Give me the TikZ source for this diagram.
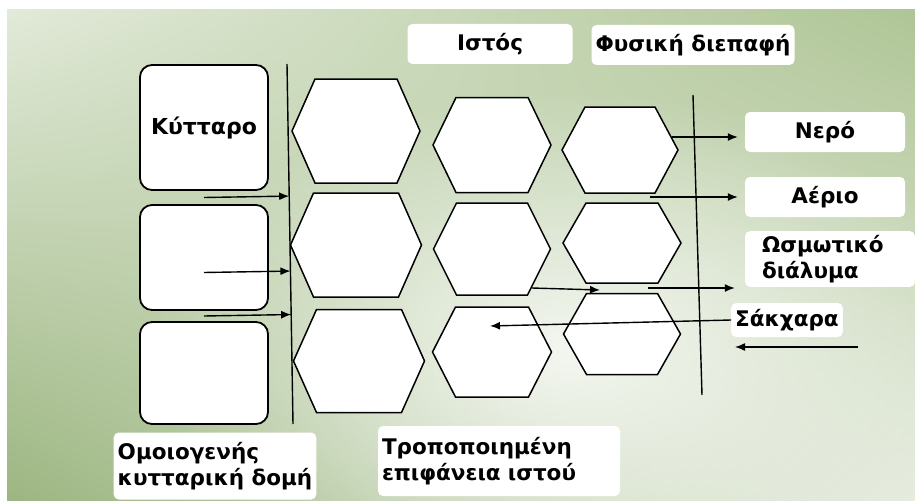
\documentclass[tikz,border=0pt]{standalone}
\usepackage{fontspec}
\setmainfont{DejaVu Sans}
\usetikzlibrary{arrows.meta, positioning, calc, fadings, shadings}
\definecolor{bgpale}{HTML}{E2EAD9}
\definecolor{bggreen}{HTML}{AFC596}
\definecolor{bgdeep}{HTML}{9CB681}
\definecolor{bglight}{HTML}{E6ECDF}
\tikzfading[name=glow, inner color=transparent!0, outer color=transparent!100]
\tikzset{
  cellcore/.style={inner sep=0pt, outer sep=0pt},
  cellline/.style={draw=black, line width=1.5pt, fill=white, line join=miter},
  cellbox/.style={draw=black, line width=1.8pt, fill=white, rounded corners=12pt,
                  inner sep=0pt, font=\bfseries\fontsize{22}{26}\selectfont},
  tag/.style={fill=white, rounded corners=5pt, inner sep=4pt,
              font=\bfseries\fontsize{21.5}{26}\selectfont},
  flow/.style={line width=1.4pt, -{Latex[length=10pt,width=8pt]}},
  wall/.style={line width=1.4pt},
}
% one hexagonal cell: name, x, y, flat width, height
\newcommand{\hexcell}[5]{%
  \node[cellcore, minimum width=#4pt, minimum height=#5pt] (#1) at (#2,#3) {};
  \draw[cellline] (#1.north west) -- (#1.north east) -- ([xshift=23pt]#1.east)
    -- (#1.south east) -- (#1.south west) -- ([xshift=-23pt]#1.west) -- cycle;
}

\begin{document}
\begin{tikzpicture}[x=1pt, y=-1pt]
  \useasboundingbox (0,0) rectangle (915,503);
  % background
  \fill[white] (0,0) rectangle (915,503);
  \begin{scope}
    \clip (7,10) rectangle (915,500);
    \shade[upper left=bgpale, upper right=bggreen, lower left=bgdeep, lower right=bglight]
      (7,10) rectangle (915,500);
    \fill[white, opacity=0.8, path fading=glow] (570,350) ellipse (420 and 260);
  \end{scope}

  % cells on the left
  \node[cellbox, minimum width=128pt, minimum height=125pt] (cell1) at (204,127.5) {Κύτταρο};
  \node[cellbox, minimum width=128pt, minimum height=105pt] (cell2) at (204,257.5) {};
  \node[cellbox, minimum width=128pt, minimum height=102pt] (cell3) at (204,373) {};

  % membranes
  \coordinate (memA) at (287,64);
  \coordinate (memB) at (293,424);
  \coordinate (memC) at (693,95);
  \coordinate (memD) at (702,395);
  \draw[wall] (memA) -- (memB);
  \draw[wall] (memC) -- (memD);

  % tissue
  \hexcell{h1}{356}{131}{82}{104}
  \hexcell{h2}{356}{245}{85}{104}
  \hexcell{h3}{359}{361}{85}{103}
  \hexcell{h4}{492}{145}{72}{95}
  \hexcell{h5}{492}{249}{71}{92}
  \hexcell{h6}{492}{352}{73}{90}
  \hexcell{h7}{620}{150}{70}{86}
  \hexcell{h8}{622}{243}{72}{80}
  \hexcell{h9}{622}{334}{71}{81}

  % labels
  \node[tag, minimum width=165pt, minimum height=40pt] (istos) at (490,44) {Ιστός};
  \node[tag, minimum width=197pt, minimum height=40pt] (fysiki) at (693,45) {Φυσική διεπαφή};
  \node[tag, minimum width=160pt, minimum height=40pt] (nero) at (825,132) {Νερό};
  \node[tag, minimum width=160pt, minimum height=40pt] (aerio) at (825,197) {Αέριο};
  \node[tag, text width=136pt, inner xsep=17pt, align=left, minimum height=45pt]
    (osmo) at (830,259) {Ωσμωτικό\\διάλυμα};
  \node[tag, minimum width=110pt, minimum height=34pt] (sugar) at (787,320) {Σάκχαρα};
  \node[tag, align=left, minimum width=200pt, minimum height=67pt]
    (homog) at (215,466) {Ομοιογενής\\κυτταρική δομή};
  \node[tag, text width=234pt, align=left, minimum height=70pt]
    (surf) at (499,461) {Τροποποιημένη\\επιφάνεια ιστού};

  % flows into the tissue
  \coordinate (in1) at ($(cell1.south)!0.5!(cell2.north)$);
  \coordinate (in2) at ([yshift=-15pt]cell2.center);
  \coordinate (in3) at ($(cell2.south)!0.5!(cell3.north)$);
  \foreach \p in {in1,in2,in3}
    \draw[flow] (\p) -- ($(memA)!(\p)!(memB)$);

  % flows across the interface
  \coordinate (w1) at (672,137);
  \coordinate (g1) at (650,197);
  \coordinate (o1) at (648,288);
  \coordinate (o0) at (532,288);
  \coordinate (o0b) at (600,290);
  \coordinate (s1) at (490,326);
  \coordinate (x1) at (858,347);
  \coordinate (x2) at (735,347);
  \draw[flow, shorten >=7pt] (w1) -- (w1 -| nero.west);
  \draw[flow, shorten >=7pt] (g1) -- (g1 -| aerio.west);
  \draw[flow, shorten >=10pt] (o1) -- (o1 -| osmo.west);
  \draw[flow] (o0) -- (o0b);
  \draw[flow] (sugar.west) -- (s1);
  \draw[flow] (x1) -- (x2);
\end{tikzpicture}
\end{document}
